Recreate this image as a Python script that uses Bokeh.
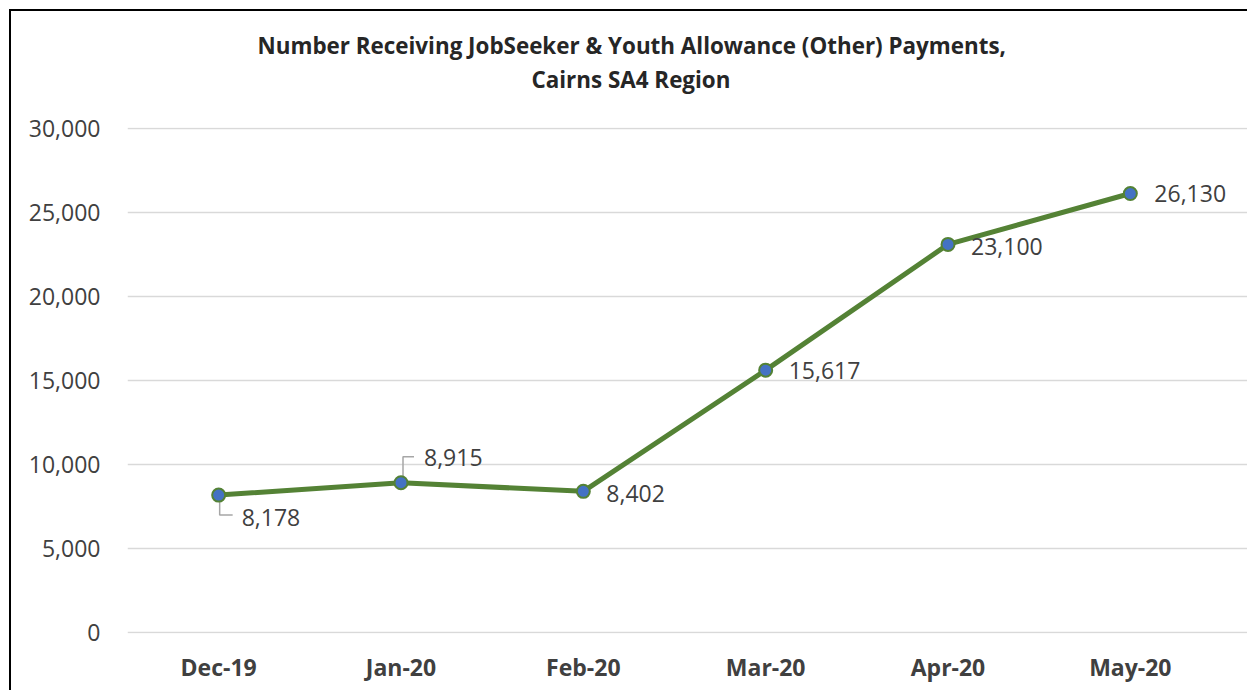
from bokeh.plotting import figure
from bokeh.models import (ColumnDataSource, LabelSet, Title, Range1d,
                          NumeralTickFormatter, FixedTicker, InlineStyleSheet)
from bokeh.core.properties import value
from bokeh.embed import file_html
from bokeh.resources import INLINE

months = ["Dec-19", "Jan-20", "Feb-20", "Mar-20", "Apr-20", "May-20"]
values = [8178, 8915, 8402, 15617, 23100, 26130]
y_ticks = [0, 5000, 10000, 15000, 20000, 25000, 30000]
title_lines = ["Number Receiving JobSeeker & Youth Allowance (Other) Payments,",
               "Cairns SA4 Region"]

# label placement (screen px)
label_dx = [23, 23, 23, 23, 23, 24]
label_dy = [-22, 25, -2, 0, -2, 0]

W, H = 1247, 690
FL, FT, FB = 127, 127, 57
PLOT_W = 1094          # width of the gridded area
EXTRA_R = W - FL - PLOT_W
frame_h = H - FT - FB
YMIN, YMAX = -60, 30060
n = len(months)
px_x = n / PLOT_W
px_y = (YMAX - YMIN) / frame_h

xs = list(range(n))
src = ColumnDataSource(dict(x=xs, y=values, lab=[f"{v:,}" for v in values],
                            dx=label_dx, dy=label_dy))

p = figure(width=W, height=H, output_backend="svg", toolbar_location=None,
           x_range=Range1d(-0.5, n - 0.5 + EXTRA_R * px_x), y_range=Range1d(YMIN, YMAX),
           min_border_left=FL, min_border_right=0, min_border_top=FT,
           min_border_bottom=FB)
p.outline_line_color = None
p.background_fill_color = "white"
p.border_fill_color = "white"

p.xgrid.grid_line_color = None
p.ygrid.grid_line_color = "#D9D9D9"
p.ygrid.grid_line_width = 1.5
p.ygrid.ticker = FixedTicker(ticks=y_ticks)
p.ygrid.bounds = (-0.5, n - 0.5)

p.yaxis.ticker = FixedTicker(ticks=y_ticks)
p.yaxis.formatter = NumeralTickFormatter(format="0,0")
p.xaxis.ticker = FixedTicker(ticks=xs)
p.xaxis.major_label_overrides = {i: m for i, m in enumerate(months)}
for ax in (p.xaxis, p.yaxis):
    ax.axis_line_color = None
    ax.major_tick_line_color = None
    ax.minor_tick_line_color = None
    ax.major_tick_out = 0
    ax.major_tick_in = 0
    ax.major_label_text_font = "Open Sans"
    ax.major_label_text_color = "#404040"
p.yaxis.major_label_text_font_size = "23px"
p.yaxis.major_label_standoff = 27
p.xaxis.major_label_text_font_size = "23px"
p.xaxis.major_label_text_font_style = "bold"
p.xaxis.major_label_standoff = 17

# leader lines for first two labels
p.line([xs[0] + 1 * px_x, xs[0] + 1 * px_x, xs[0] + 14 * px_x],
       [values[0] - 6 * px_y, values[0] - 20 * px_y, values[0] - 20 * px_y],
       line_color="#A6A6A6", line_width=1.5)
p.line([xs[1] + 2 * px_x, xs[1] + 2 * px_x, xs[1] + 13 * px_x],
       [values[1] + 6 * px_y, values[1] + 26 * px_y, values[1] + 26 * px_y],
       line_color="#A6A6A6", line_width=1.5)

p.line("x", "y", source=src, line_color="#548235", line_width=5)
p.scatter("x", "y", source=src, size=13, fill_color="#4472C4",
          line_color="#548235", line_width=2)

labels = LabelSet(x="x", y="y", text="lab", source=src, x_offset="dx", y_offset="dy",
                  text_font=value("Open Sans"), text_font_size="23px", text_color="#404040",
                  text_baseline="middle", text_align="left")
p.add_layout(labels)

# title: second line closest to the plot, first line above it
t2 = Title(text=title_lines[1], align="left", offset=404, standoff=65,
           text_font="Open Sans", text_font_size="22.4px", text_font_style="bold",
           text_color="#262626")
t1 = Title(text=title_lines[0], align="left", offset=130, standoff=-63,
           text_font="Open Sans", text_font_size="22.4px", text_font_style="bold",
           text_color="#262626")
p.add_layout(t2, "above")
p.add_layout(t1, "above")

# chart-area border (left and top edges visible)
p.stylesheets = [InlineStyleSheet(css="""
:host::after {
  content: ""; position: absolute; left: 9px; top: 9px; right: 0; bottom: 0;
  border-left: 2.5px solid #000; border-top: 2.5px solid #000;
  pointer-events: none; box-sizing: border-box;
}
""")]

open("out.html", "w").write(file_html(p, INLINE))
